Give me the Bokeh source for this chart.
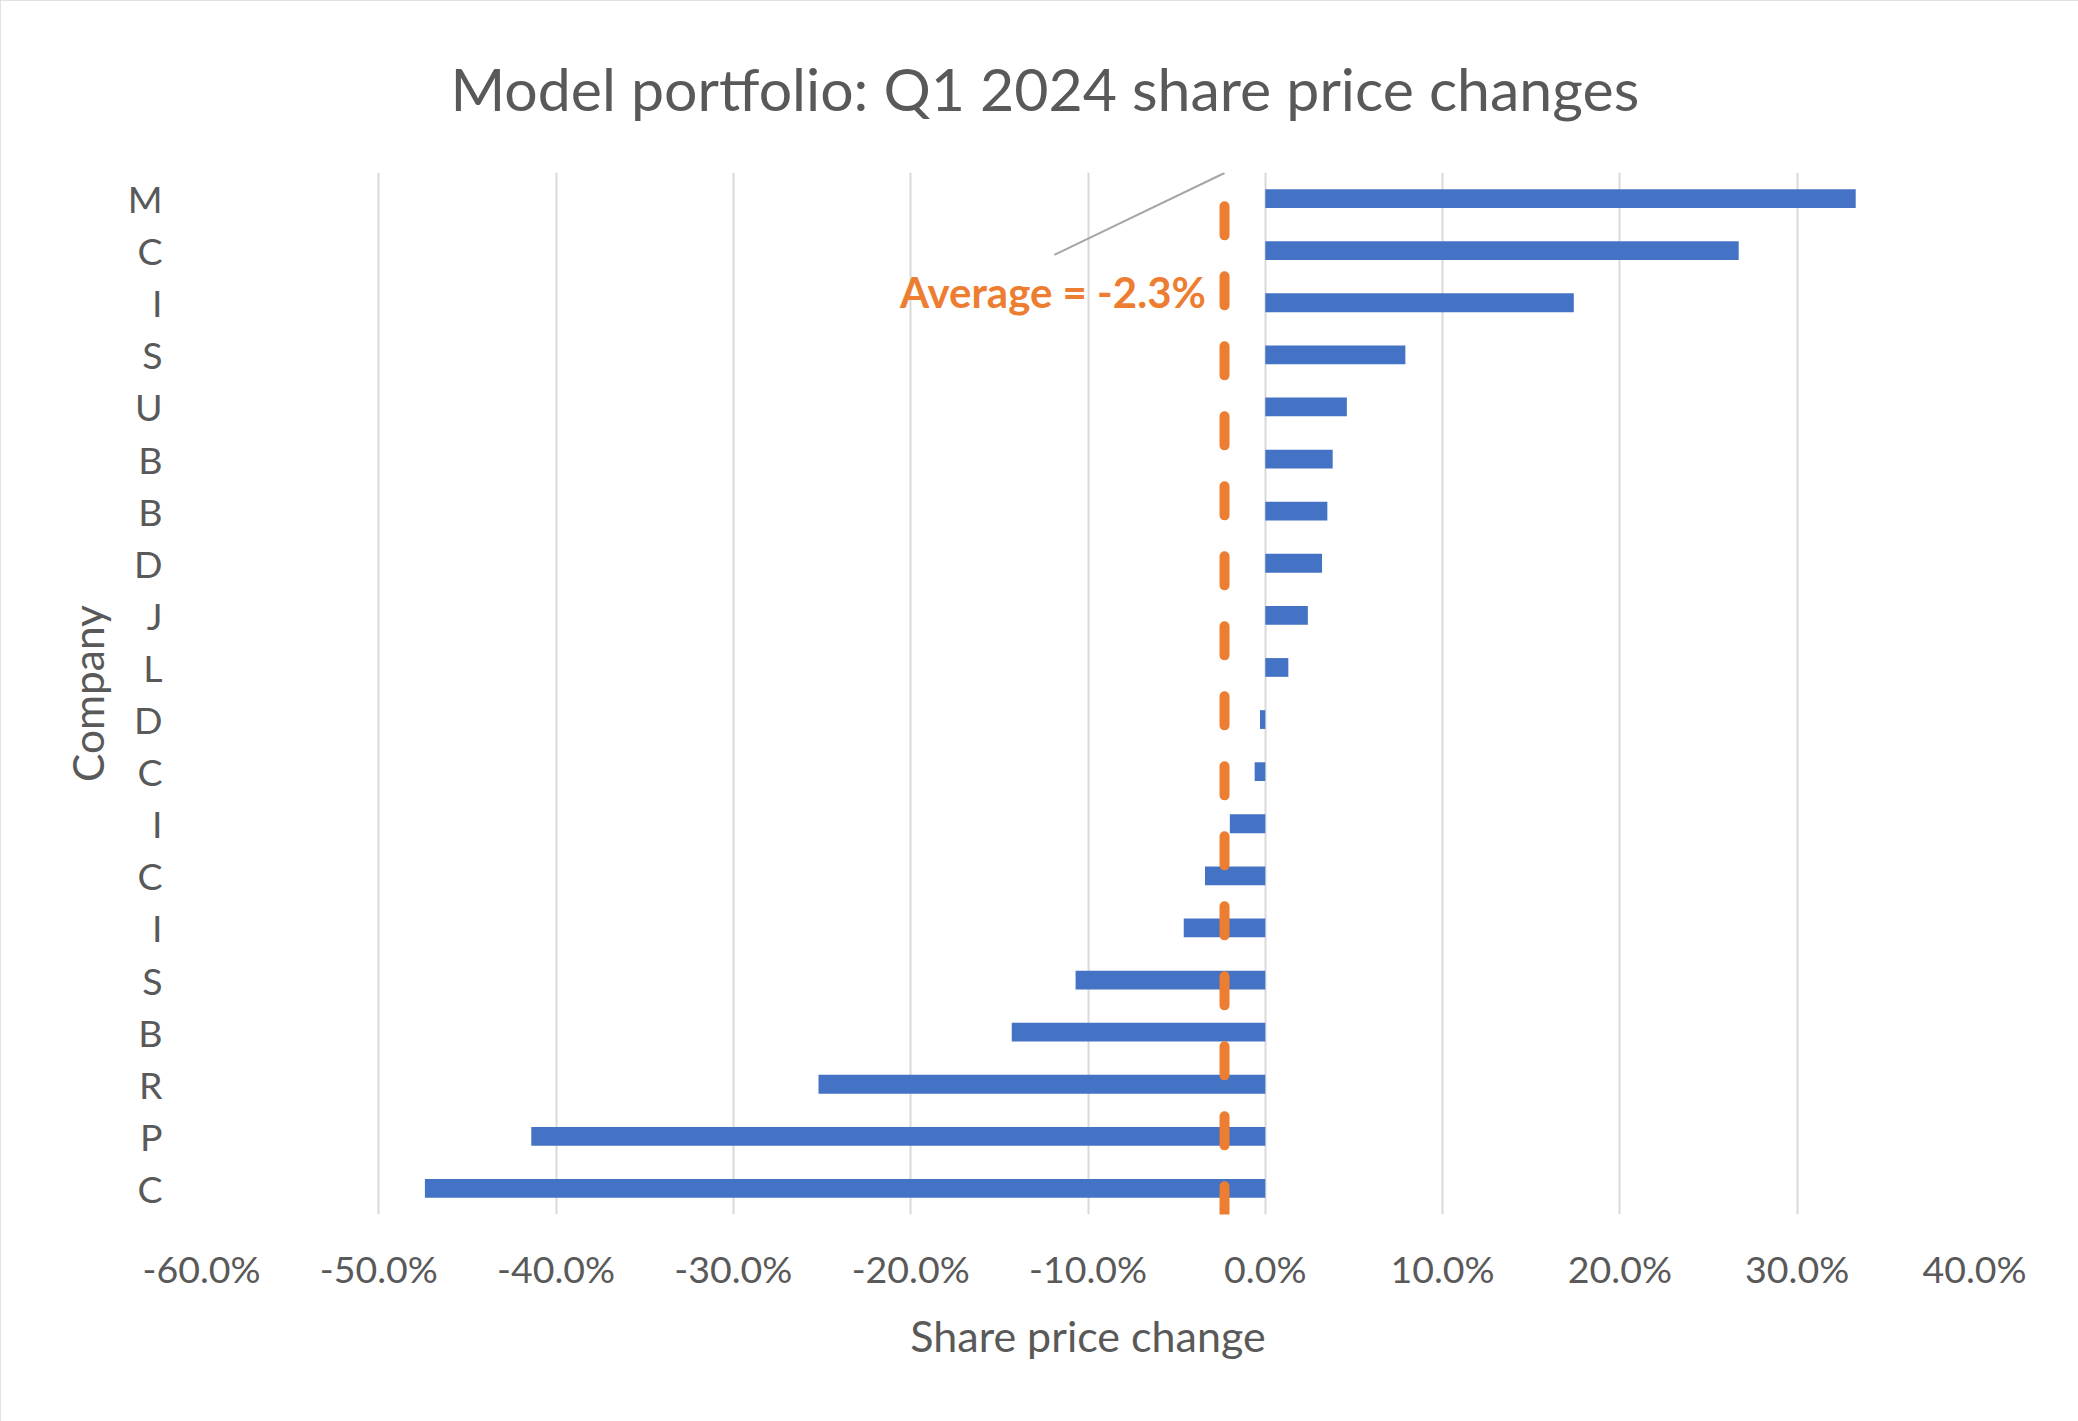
from bokeh.plotting import figure
from bokeh.models import FixedTicker, PrintfTickFormatter, Label, ColumnDataSource, Range1d
from bokeh.embed import file_html
from bokeh.resources import INLINE

# ---- data (top row first) ----
companies = ["M", "C", "I", "S", "U", "B", "B", "D", "J", "L",
             "D", "C", "I", "C", "I", "S", "B", "R", "P", "C"]
changes = [33.3, 26.7, 17.4, 7.9, 4.6, 3.8, 3.5, 3.2, 2.4, 1.3,
           -0.3, -0.6, -2.0, -3.4, -4.6, -10.7, -14.3, -25.2, -41.4, -47.4]
x_ticks = [-60, -50, -40, -30, -20, -10, 0, 10, 20, 30, 40]
AVERAGE = round(sum(changes) / len(changes), 1)

TITLE = "Model portfolio: Q1 2024 share price changes"
X_TITLE = "Share price change"
Y_TITLE = "Company"

TEXT = "#595959"
BLUE = "#4472C4"
ORANGE = "#ED7D31"
FONT = "Lato"

n = len(companies)
ypos = [n - 0.5 - i for i in range(n)]
src = ColumnDataSource(dict(y=ypos, change=changes, name=companies))

p = figure(frame_width=1773, frame_height=1042,
           min_border_left=201, min_border_right=104,
           min_border_top=172, min_border_bottom=207,
           x_range=Range1d(x_ticks[0], x_ticks[-1]), y_range=Range1d(0, n),
           output_backend="svg", toolbar_location=None)
p.styles = {"outline": "3px solid #D9D9D9", "outline-offset": "-3px"}
p.outline_line_color = None
p.background_fill_color = "white"
p.border_fill_color = "white"

# title
p.title.text = TITLE
p.title.align = "left"
p.title.offset = 249
p.title.standoff = 98
p.title.text_font = FONT
p.title.text_font_style = "normal"
p.title.text_font_size = "59px"
p.title.text_color = TEXT

p.hbar(y="y", left=0, right="change", height=0.36, source=src,
       fill_color=BLUE, line_color=None)

# average line
p.line(x=[AVERAGE, AVERAGE], y=[n - 0.65, -0.1], line_color=ORANGE,
       line_width=10, line_dash="29 41", line_cap="round")
# leader line
p.line(x=[-11.9, AVERAGE], y=[n - 1.58, n - 0.01], line_color="#A6A6A6", line_width=2)

p.add_layout(Label(x=-3.35, y=n - 2.3, text=f"Average = {AVERAGE:.1f}%",
                   text_align="right", text_baseline="middle",
                   text_font=FONT, text_font_style="bold",
                   text_font_size="42px", text_color=ORANGE))

# grid
p.ygrid.visible = False
p.xgrid.grid_line_color = "#D9D9D9"
p.xgrid.grid_line_width = 2

# x axis
xa = p.xaxis[0]
xa.ticker = FixedTicker(ticks=x_ticks)
xa.formatter = PrintfTickFormatter(format="%.1f%%")
xa.axis_line_color = None
xa.major_tick_line_color = None
xa.minor_tick_line_color = None
xa.major_tick_out = 0
xa.major_tick_in = 0
xa.major_label_text_font = FONT
xa.major_label_text_font_size = "37.5px"
xa.major_label_text_color = TEXT
xa.major_label_standoff = 31
xa.axis_label = X_TITLE
xa.axis_label_text_font = FONT
xa.axis_label_text_font_style = "normal"
xa.axis_label_text_font_size = "43px"
xa.axis_label_text_color = TEXT
xa.axis_label_standoff = 16

# y axis
ya = p.yaxis[0]
ya.ticker = FixedTicker(ticks=ypos)
ya.major_label_overrides = {y: c for y, c in zip(ypos, companies)}
ya.axis_line_color = None
ya.major_tick_line_color = None
ya.minor_tick_line_color = None
ya.major_tick_out = 0
ya.major_tick_in = 0
ya.major_label_text_font = FONT
ya.major_label_text_font_size = "37.5px"
ya.major_label_text_color = TEXT
ya.major_label_standoff = 39
ya.axis_label = Y_TITLE
ya.axis_label_text_font = FONT
ya.axis_label_text_font_style = "normal"
ya.axis_label_text_font_size = "42.5px"
ya.axis_label_text_color = TEXT
ya.axis_label_standoff = 12

open("out.html", "w").write(file_html(p, INLINE))
